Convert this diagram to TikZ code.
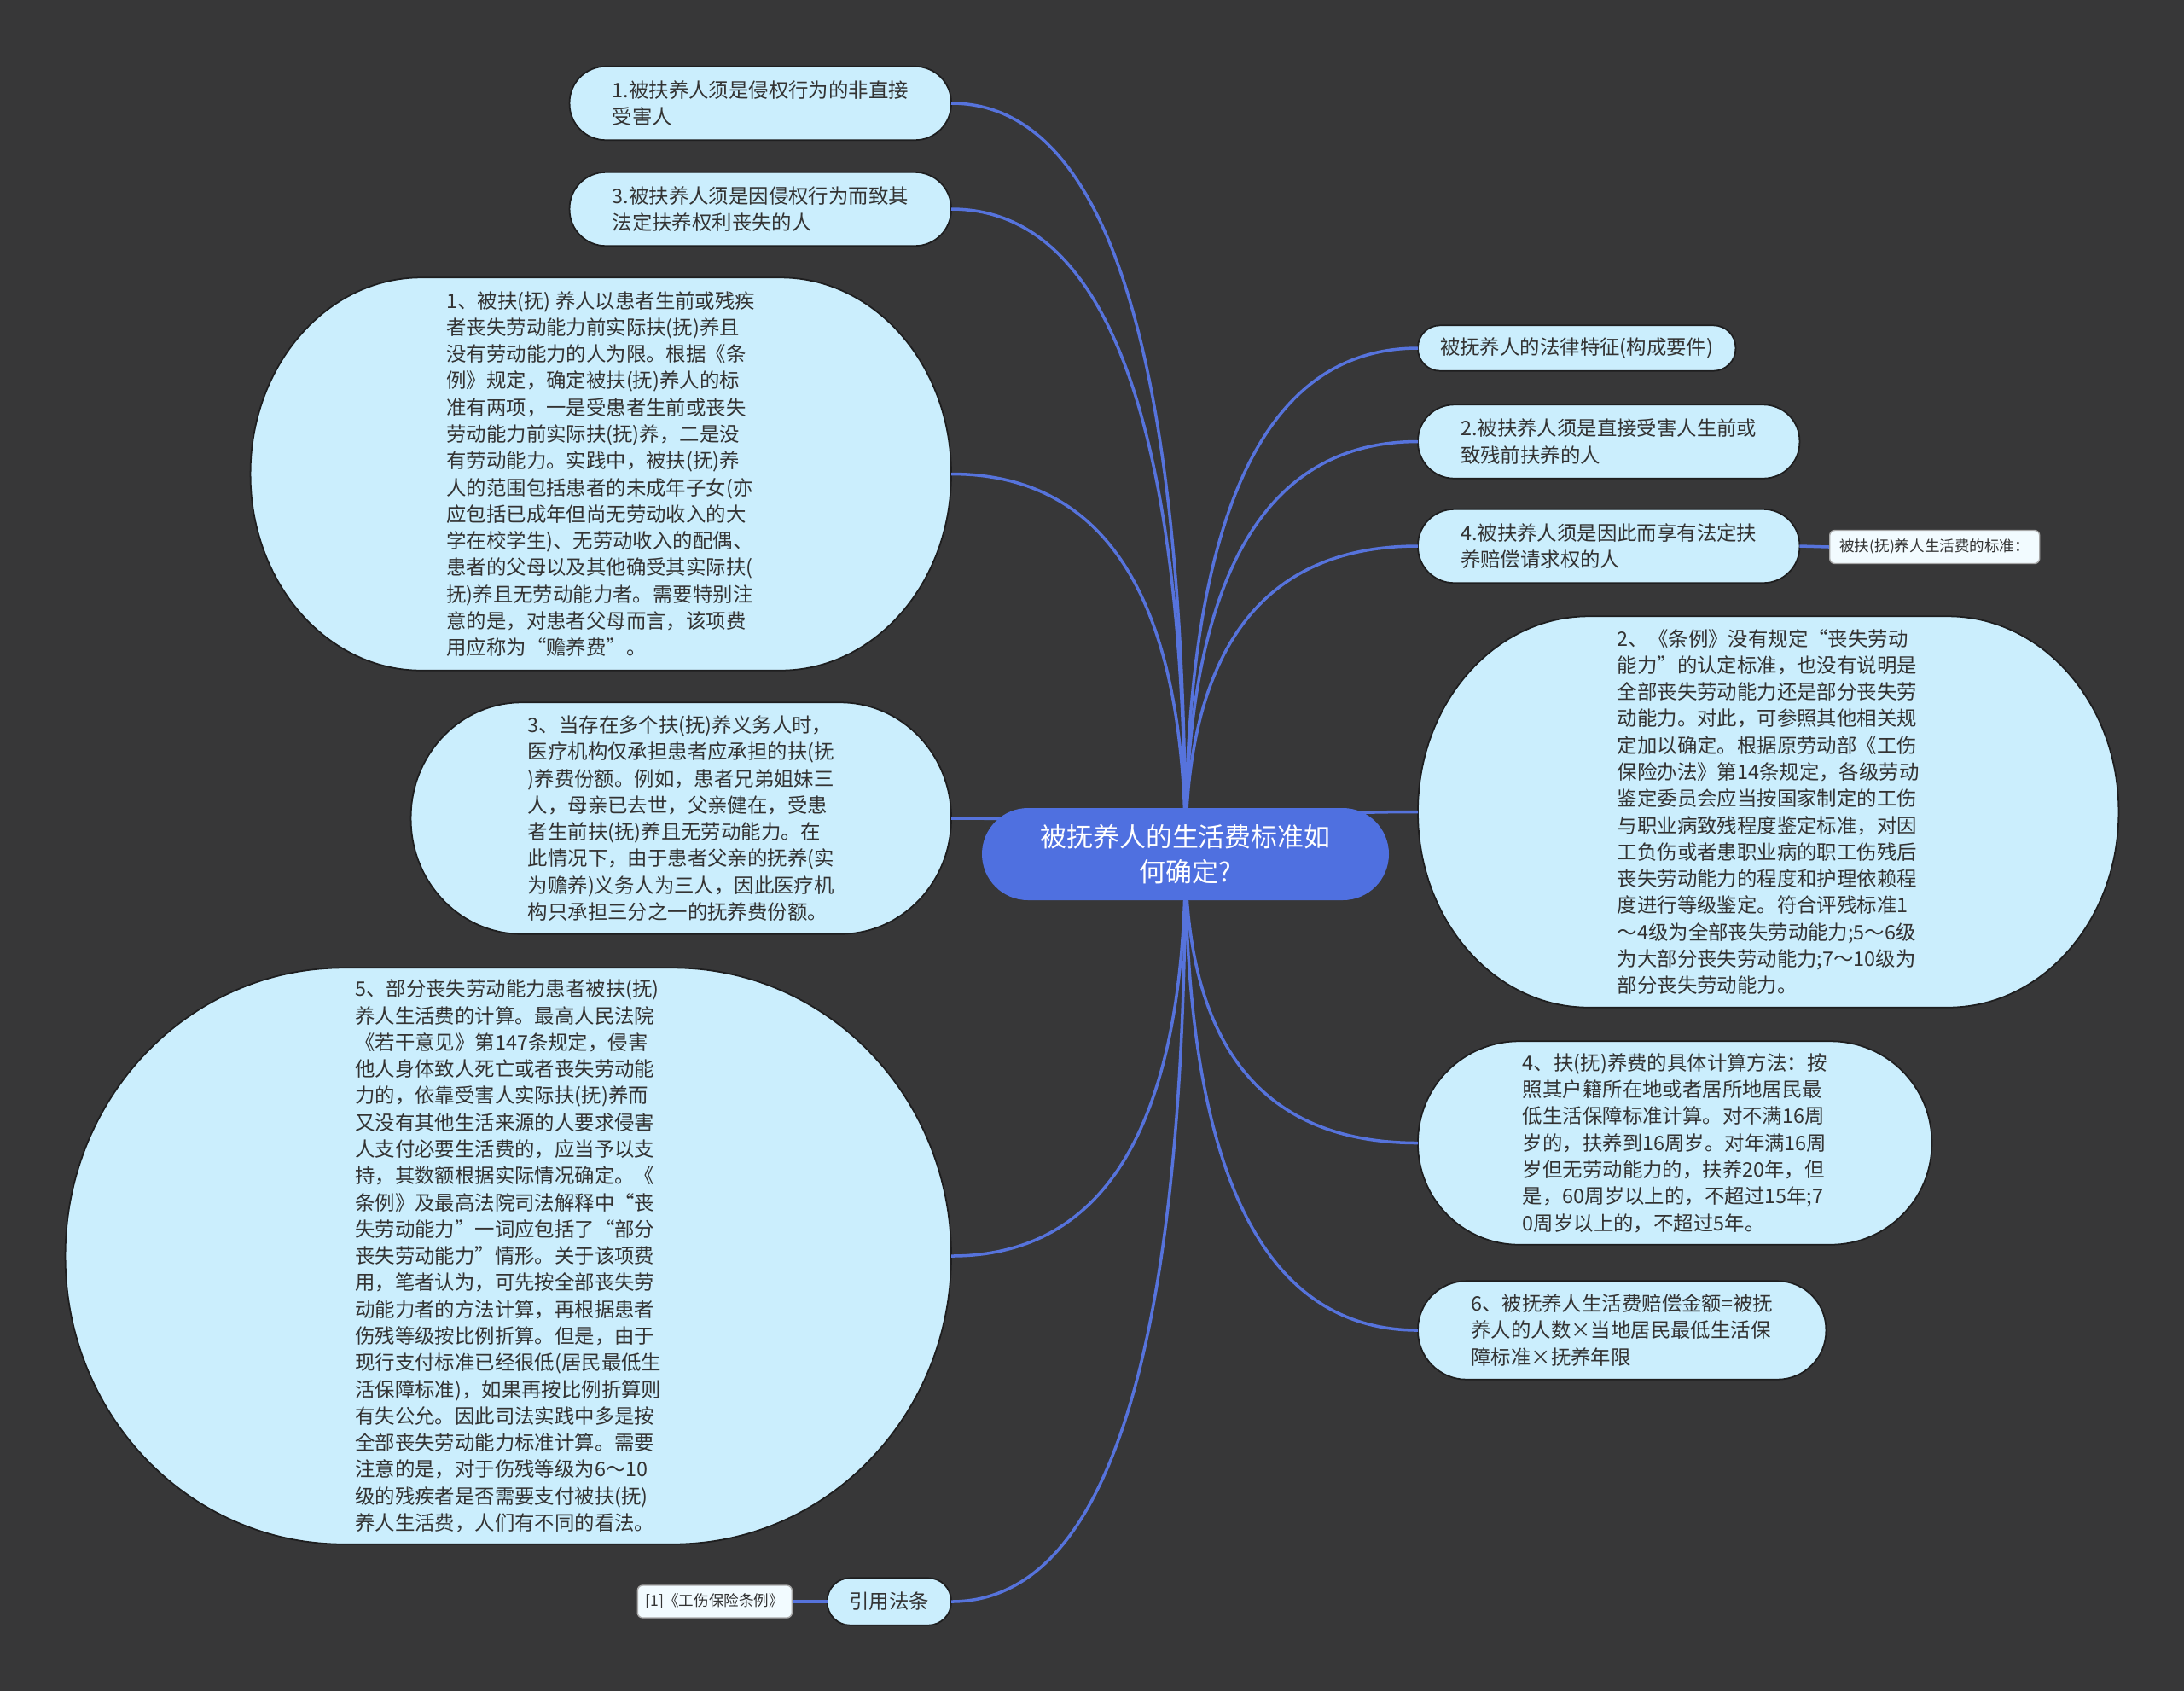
\documentclass[tikz,border=0pt]{standalone}
\usepackage{fontspec}
\setmainfont{Noto Sans CJK SC}
\usepackage{xcolor}
\usepackage{tikz}
\usetikzlibrary{positioning, calc, backgrounds}

\definecolor{bgdark}{HTML}{373738}
\definecolor{topicfill}{HTML}{CBEEFD}
\definecolor{rootblue}{HTML}{4F70E0}
\definecolor{linkblue}{HTML}{5673DC}
\definecolor{textgray}{HTML}{333333}
\definecolor{notefill}{HTML}{F2FBFF}
\definecolor{notegray}{HTML}{A8A8A8}

% filled outline with elliptic corners round a sized node
\newcommand{\blobpath}[3]{%
  \filldraw[blob] ([xshift=#2]#1.north west) -- ([xshift=-#2]#1.north east)
    arc[start angle=90, end angle=0, x radius=#2, y radius=#3]
    -- ([yshift=#3]#1.south east)
    arc[start angle=0, end angle=-90, x radius=#2, y radius=#3]
    -- ([xshift=#2]#1.south west)
    arc[start angle=270, end angle=180, x radius=#2, y radius=#3]
    -- ([yshift=-#3]#1.north west)
    arc[start angle=180, end angle=90, x radius=#2, y radius=#3]
    -- cycle;}

\begin{document}
\begin{tikzpicture}[
    topic/.style={inner sep=0pt, align=left, text=textgray, font=\fontsize{6.66pt}{8.9pt}\selectfont},
    root/.style={fill=rootblue, text=white, rounded corners=0.54cm, minimum width=4.77cm,
        minimum height=1.08cm, inner sep=0pt, align=center, font=\fontsize{8.8pt}{11.6pt}\selectfont},
    note/.style={fill=notefill, draw=notegray, line width=0.4pt, rounded corners=0.06cm, inner sep=0pt,
        text=textgray, font=\fontsize{5pt}{6pt}\selectfont},
    blob/.style={fill=topicfill, draw=black!45!bgdark, line width=0.5pt},
    link/.style={linkblue, line width=1pt},
    quad/.style={to path={.. controls ($(\tikztostart)!2/3!(\tikztostart |- \tikztotarget)$)
        and ($(\tikztotarget)!2/3!(\tikztostart |- \tikztotarget)$) .. (\tikztotarget)}}
]

    \def\lcol{11.15} % right edge, left column
    \def\rcol{16.62} % left edge, right column

    \useasboundingbox (0,0) rectangle (25.6,-19.82);

    % centre
    \node[root] (root) at (13.895,-10.01) {被抚养人的生活费标准如\\何确定?};

    % left column
    \node[topic, anchor=east, minimum width=4.46cm, minimum height=0.85cm] (l1) at (\lcol,-1.21)
        {1.被扶养人须是侵权行为的非直接\\受害人};
    \node[topic, anchor=east, minimum width=4.46cm, minimum height=0.85cm] (l2) at (\lcol,-2.45)
        {3.被扶养人须是因侵权行为而致其\\法定扶养权利丧失的人};
    \node[topic, anchor=east, minimum width=8.2cm, minimum height=4.59cm] (l3) at (\lcol,-5.555)
        {1、被扶(抚) 养人以患者生前或残疾\\者丧失劳动能力前实际扶(抚)养且\\没有劳动能力的人为限。根据《条\\例》规定，确定被扶(抚)养人的标\\准有两项，一是受患者生前或丧失\\劳动能力前实际扶(抚)养，二是没\\有劳动能力。实践中，被扶(抚)养\\人的范围包括患者的未成年子女(亦\\应包括已成年但尚无劳动收入的大\\学在校学生)、无劳动收入的配偶、\\患者的父母以及其他确受其实际扶(\\抚)养且无劳动能力者。需要特别注\\意的是，对患者父母而言，该项费\\用应称为“赡养费”。};
    \node[topic, anchor=east, minimum width=6.32cm, minimum height=2.7cm] (l4) at (\lcol,-9.59)
        {3、当存在多个扶(抚)养义务人时，\\医疗机构仅承担患者应承担的扶(抚\\)养费份额。例如，患者兄弟姐妹三\\人，母亲已去世，父亲健在，受患\\者生前扶(抚)养且无劳动能力。在\\此情况下，由于患者父亲的抚养(实\\为赡养)义务人为三人，因此医疗机\\构只承担三分之一的抚养费份额。};
    \node[topic, anchor=east, minimum width=10.37cm, minimum height=6.74cm] (l5) at (\lcol,-14.72)
        {5、部分丧失劳动能力患者被扶(抚)\\养人生活费的计算。最高人民法院\\《若干意见》第147条规定，侵害\\他人身体致人死亡或者丧失劳动能\\力的，依靠受害人实际扶(抚)养而\\又没有其他生活来源的人要求侵害\\人支付必要生活费的，应当予以支\\持，其数额根据实际情况确定。《\\条例》及最高法院司法解释中“丧\\失劳动能力”一词应包括了“部分\\丧失劳动能力”情形。关于该项费\\用，笔者认为，可先按全部丧失劳\\动能力者的方法计算，再根据患者\\伤残等级按比例折算。但是，由于\\现行支付标准已经很低(居民最低生\\活保障标准)，如果再按比例折算则\\有失公允。因此司法实践中多是按\\全部丧失劳动能力标准计算。需要\\注意的是，对于伤残等级为6～10\\级的残疾者是否需要支付被扶(抚)\\养人生活费，人们有不同的看法。};
    \node[topic, anchor=east, minimum width=1.44cm, minimum height=0.54cm] (l6) at (\lcol,-18.77) {引用法条};
    \node[note, anchor=east, minimum width=1.81cm, minimum height=0.38cm] (law) at (9.29,-18.77) {[1]《工伤保险条例》};

    % right column
    \node[topic, anchor=west, minimum width=3.71cm, minimum height=0.52cm] (r1) at (\rcol,-4.08)
        {被抚养人的法律特征(构成要件)};
    \node[topic, anchor=west, minimum width=4.46cm, minimum height=0.85cm] (r2) at (\rcol,-5.175)
        {2.被扶养人须是直接受害人生前或\\致残前扶养的人};
    \node[topic, anchor=west, minimum width=4.46cm, minimum height=0.85cm] (r3) at (\rcol,-6.4)
        {4.被扶养人须是因此而享有法定扶\\养赔偿请求权的人};
    \node[note, anchor=west, minimum width=2.46cm, minimum height=0.39cm] (std) at (21.44,-6.41) {被扶(抚)养人生活费的标准：};
    \node[topic, anchor=west, minimum width=8.2cm, minimum height=4.57cm] (r4) at (\rcol,-9.515)
        {2、《条例》没有规定“丧失劳动\\能力”的认定标准，也没有说明是\\全部丧失劳动能力还是部分丧失劳\\动能力。对此，可参照其他相关规\\定加以确定。根据原劳动部《工伤\\保险办法》第14条规定，各级劳动\\鉴定委员会应当按国家制定的工伤\\与职业病致残程度鉴定标准，对因\\工负伤或者患职业病的职工伤残后\\丧失劳动能力的程度和护理依赖程\\度进行等级鉴定。符合评残标准1\\～4级为全部丧失劳动能力;5～6级\\为大部分丧失劳动能力;7～10级为\\部分丧失劳动能力。};
    \node[topic, anchor=west, minimum width=6.01cm, minimum height=2.37cm] (r5) at (\rcol,-13.395)
        {4、扶(抚)养费的具体计算方法：按\\照其户籍所在地或者居所地居民最\\低生活保障标准计算。对不满16周\\岁的，扶养到16周岁。对年满16周\\岁但无劳动能力的，扶养20年，但\\是，60周岁以上的，不超过15年;7\\0周岁以上的，不超过5年。};
    \node[topic, anchor=west, minimum width=4.77cm, minimum height=1.14cm] (r6) at (\rcol,-15.59)
        {6、被抚养人生活费赔偿金额=被抚\\养人的人数×当地居民最低生活保\\障标准×抚养年限};

    \begin{pgfonlayer}{background}
    \fill[bgdark] (0,0) rectangle (25.6,-19.82);

    % outlines
    \blobpath{l1}{0.425cm}{0.425cm}
    \blobpath{l2}{0.425cm}{0.425cm}
    \blobpath{l3}{2.0cm}{2.295cm}
    \blobpath{l4}{1.3cm}{1.35cm}
    \blobpath{l5}{3.26cm}{3.37cm}
    \blobpath{l6}{0.27cm}{0.27cm}
    \blobpath{r1}{0.26cm}{0.26cm}
    \blobpath{r2}{0.425cm}{0.425cm}
    \blobpath{r3}{0.425cm}{0.425cm}
    \blobpath{r4}{2.0cm}{2.285cm}
    \blobpath{r5}{1.185cm}{1.185cm}
    \blobpath{r6}{0.57cm}{0.57cm}

    % links
    \draw[link] (root.center) to[quad] (l1.east);
    \draw[link] (root.center) to[quad] (l2.east);
    \draw[link] (root.center) to[quad] (l3.east);
    \draw[link] (root.center) to[quad] (l4.east);
    \draw[link] (root.center) to[quad] (l5.east);
    \draw[link] (root.center) to[quad] (l6.east);
    \draw[link] (root.center) to[quad] (r1.west);
    \draw[link] (root.center) to[quad] (r2.west);
    \draw[link] (root.center) to[quad] (r3.west);
    \draw[link] (root.center) to[quad] (r4.west);
    \draw[link] (root.center) to[quad] (r5.west);
    \draw[link] (root.center) to[quad] (r6.west);
    \draw[link] (l6.west) -- (law.east);
    \draw[link] (r3.east) -- (std.west);
    \end{pgfonlayer}
\end{tikzpicture}
\end{document}
